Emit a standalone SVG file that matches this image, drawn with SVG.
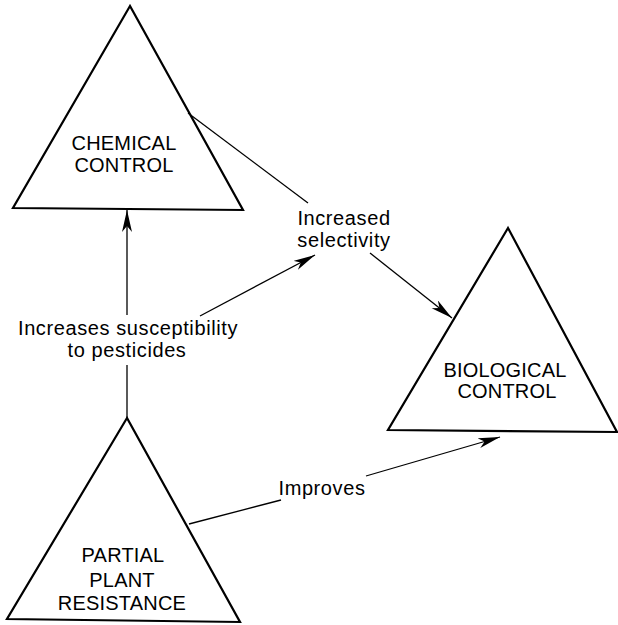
<svg xmlns="http://www.w3.org/2000/svg" width="618" height="625" viewBox="0 0 618 625">
<style>
.tri{fill:none;stroke:#000;stroke-width:2.2;stroke-linejoin:miter}
.con{fill:none;stroke:#000;stroke-width:1.3}
.t{font-family:"Liberation Sans",Arial,sans-serif;font-size:20px;fill:#000;text-anchor:middle}
.n{letter-spacing:0.2px}
.l{letter-spacing:0.6px}
</style>
<defs>
<marker id="ah" markerUnits="userSpaceOnUse" markerWidth="24" markerHeight="12" refX="22" refY="5" orient="auto">
<path d="M0,0 L22,5 L0,10 L6,5 Z" fill="#000"/>
</marker>
</defs>
<rect width="618" height="625" fill="#fff"/>
<g id="chemical">
<polygon class="tri" points="130,6 13,208 243,210"/>
<text class="t n" x="124" y="150">CHEMICAL</text>
<text class="t n" x="124" y="172">CONTROL</text>
</g>
<g id="biological">
<polygon class="tri" points="508,228 388,430 617,432"/>
<text class="t n" x="505" y="377">BIOLOGICAL</text>
<text class="t n" x="507" y="398">CONTROL</text>
</g>
<g id="partial">
<polygon class="tri" points="127,418 7,619 240,622"/>
<text class="t n" x="123" y="562">PARTIAL</text>
<text class="t n" x="122" y="587">PLANT</text>
<text class="t n" x="122" y="610">RESISTANCE</text>
</g>
<g id="label-selectivity">
<text class="t l" x="344" y="225">Increased</text>
<text class="t l" x="344" y="247">selectivity</text>
</g>
<g id="label-susceptibility">
<text class="t l" x="128" y="335">Increases susceptibility</text>
<text class="t l" x="127" y="357">to pesticides</text>
</g>
<g id="label-improves">
<text class="t l" x="322" y="495">Improves</text>
</g>
<g id="connectors">
<line class="con" x1="188" y1="113" x2="308" y2="203"/>
<line class="con" x1="127" y1="315" x2="127" y2="210" marker-end="url(#ah)"/>
<line class="con" x1="127" y1="365" x2="127" y2="418"/>
<line class="con" x1="200" y1="316" x2="315" y2="255" marker-end="url(#ah)"/>
<line class="con" x1="370" y1="253" x2="452" y2="318" marker-end="url(#ah)"/>
<line class="con" x1="189" y1="524" x2="281" y2="500"/>
<line class="con" x1="366" y1="476" x2="500" y2="437" marker-end="url(#ah)"/>
</g>
</svg>
